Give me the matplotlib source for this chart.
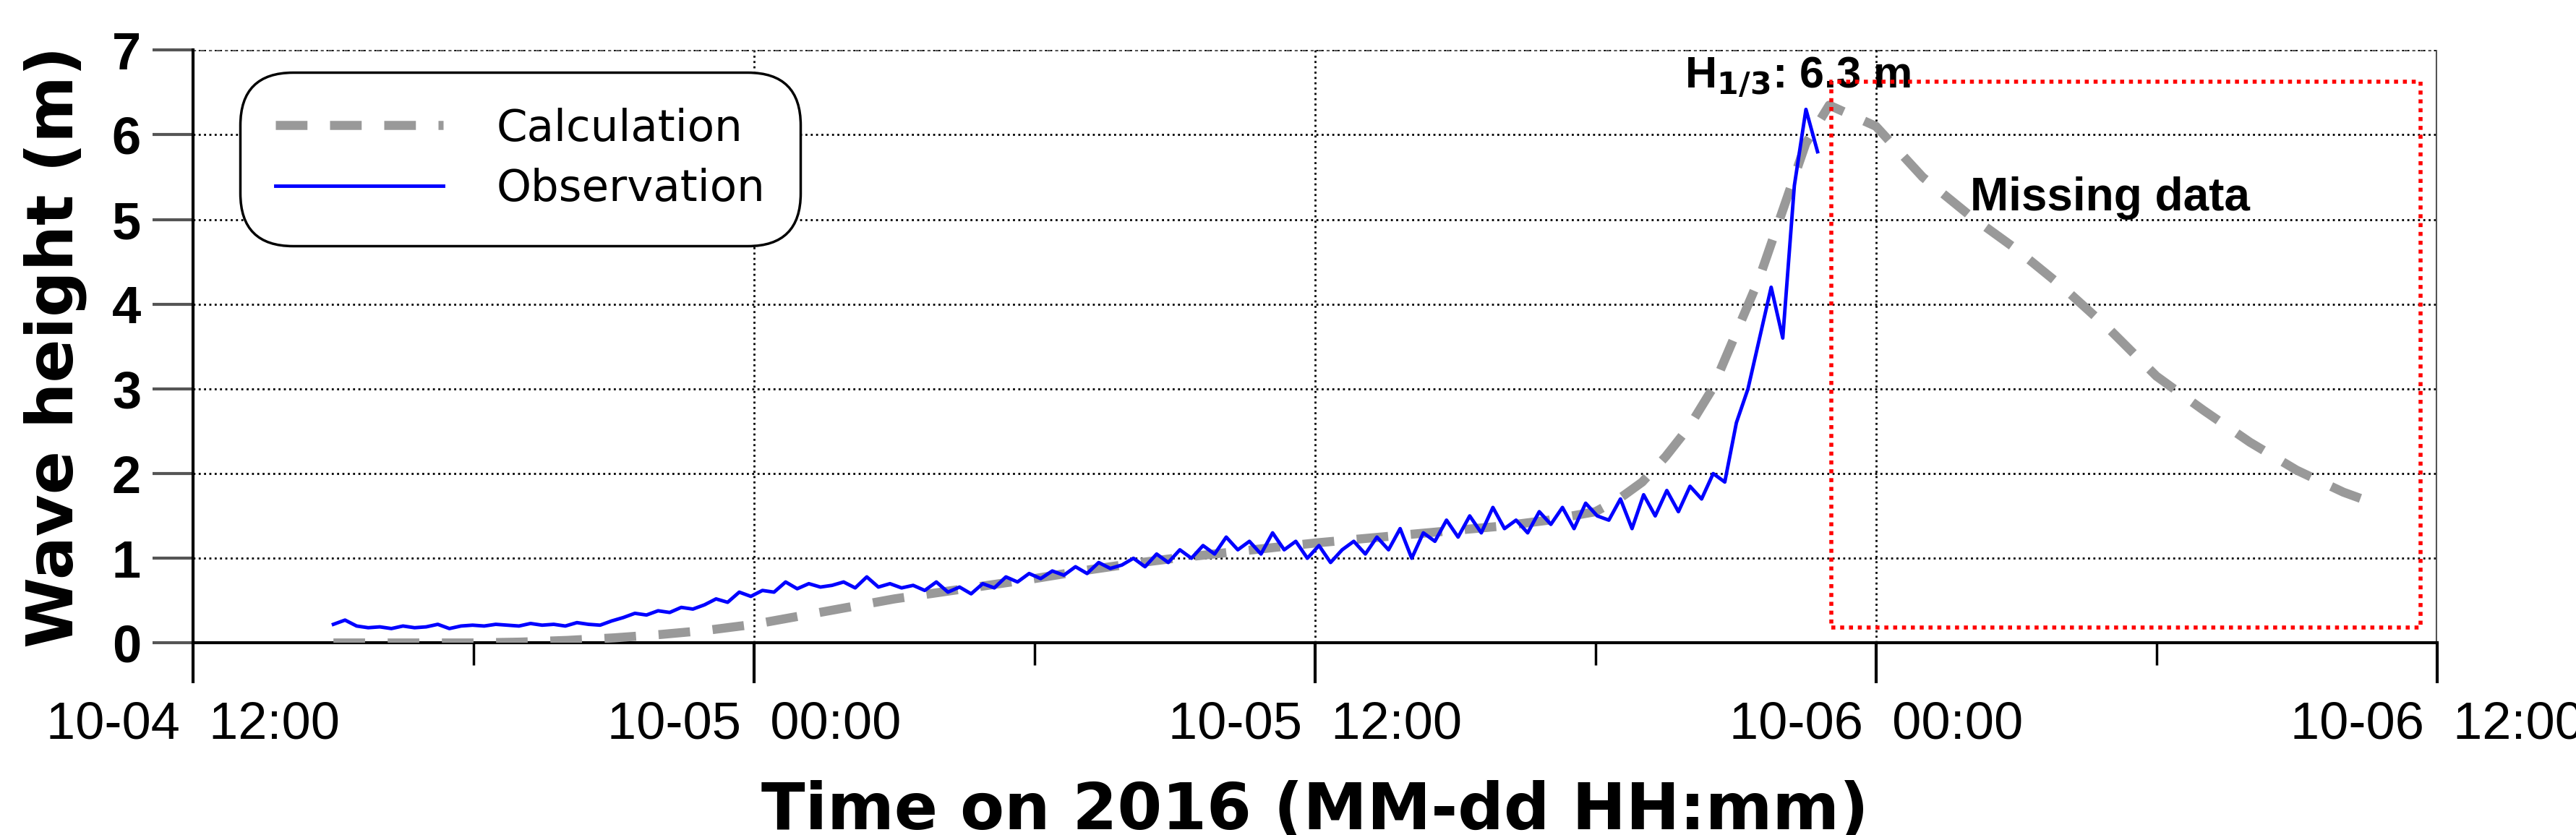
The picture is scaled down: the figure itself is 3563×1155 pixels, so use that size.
import matplotlib
matplotlib.use("Agg")
import matplotlib.pyplot as plt
import numpy as np
from matplotlib.patches import Rectangle

# hours since 10-04 12:00
calc_t = [3,4,5,6,7,8,9,10,11,12,13,14,15,16,17,18,19,20,21,22,23,24,25,26,27,28,29,30,30.5,31,31.5,32,32.5,33,33.5,34,34.5,35,36,37,38,39,40,41,42,43,44,45,46,46.4]
calc_h = [0.0,0.0,0.0,0.0,0.01,0.03,0.06,0.1,0.15,0.22,0.32,0.42,0.52,0.6,0.68,0.76,0.85,0.93,1.0,1.06,1.12,1.18,1.23,1.28,1.33,1.38,1.45,1.55,1.7,1.9,2.2,2.55,3.0,3.65,4.3,5.1,5.9,6.35,6.1,5.5,5.05,4.65,4.2,3.7,3.15,2.75,2.37,2.04,1.78,1.7]

obs_t0, obs_dt = 3.0, 0.25
obs_h = [0.22,0.27,0.2,0.18,0.19,0.17,0.2,0.18,
         0.19,0.22,0.17,0.2,0.21,0.2,0.22,0.21,
         0.2,0.23,0.21,0.22,0.2,0.24,0.22,0.21,
         0.26,0.3,0.35,0.33,0.38,0.36,0.42,0.4,
         0.45,0.52,0.48,0.6,0.55,0.62,0.6,0.72,
         0.64,0.7,0.66,0.68,0.72,0.65,0.78,0.66,
         0.7,0.65,0.68,0.62,0.72,0.6,0.66,0.58,
         0.7,0.65,0.78,0.72,0.82,0.76,0.85,0.8,
         0.9,0.82,0.95,0.88,0.92,1.0,0.9,1.05,
         0.95,1.1,1.0,1.15,1.05,1.25,1.1,1.2,
         1.05,1.3,1.1,1.2,1.0,1.15,0.95,1.1,
         1.2,1.05,1.25,1.1,1.35,1.0,1.3,1.2,
         1.45,1.25,1.5,1.3,1.6,1.35,1.45,1.3,
         1.55,1.4,1.6,1.35,1.65,1.5,1.45,1.7,
         1.35,1.75,1.5,1.8,1.55,1.85,1.7,2.0,
         1.9,2.6,3.0,3.6,4.2,3.6,5.4,6.3,5.8]
obs_t = obs_t0 + obs_dt*np.arange(len(obs_h))*(31.75/(len(obs_h)-1))/obs_dt

xtick_pos = [0,12,24,36,48]
xtick_labels = ["10-04  12:00","10-05  00:00","10-05  12:00","10-06  00:00","10-06  12:00"]

fig = plt.figure(figsize=(35.63,11.55), dpi=100)
ax = fig.add_axes([0.075,0.23,0.871,0.71])
ax.plot(calc_t, calc_h, color="#999999", lw=9, ls=(0,(3.5,2.5)), label="Calculation", zorder=3)
ax.plot(obs_t, obs_h, color="#0000ff", lw=3.5, label="Observation", zorder=4)

ax.add_patch(Rectangle((35.05,0.18),12.6,6.45, fill=False, ec="red", lw=4, ls=(0,(1,1.2)), zorder=5))
ax.text(31.9,6.42,r"H$_{\mathbf{1/3}}$: 6.3 m", fontsize=44, fontweight="bold", family="Liberation Sans", va="bottom")
ax.text(41.0,5.25,"Missing data", fontsize=46, fontweight="bold", family="Liberation Sans", ha="center", va="center")

ax.set_xlim(0,48); ax.set_ylim(0,7)
ax.set_xticks(xtick_pos); ax.set_xticklabels(xtick_labels, family="Liberation Sans", fontsize=52)
ax.set_xticks([6,18,30,42], minor=True)
ax.set_yticks(range(8))
ax.set_yticklabels([str(i) for i in range(8)], family="Liberation Sans", fontsize=52, fontweight="bold")
ax.tick_params(axis="x", which="major", length=40, width=3, direction="out", pad=18)
ax.tick_params(axis="x", which="minor", length=22, width=2.5, direction="out")
ax.tick_params(axis="y", length=40, width=3, color="#555555", pad=12)
ax.grid(True, which="major", color="black", ls=":", lw=2)
for s in ["top","right"]:
    ax.spines[s].set_visible(False)
for s in ["left","bottom"]:
    ax.spines[s].set_linewidth(3)
ax.axhline(7, color="#555555", lw=3, ls=":", zorder=2)
ax.axvline(48, color="#555555", lw=3, zorder=2)
ax.set_ylabel("Wave height (m)", fontsize=64, fontweight="bold", labelpad=25)
ax.set_xlabel("Time on 2016 (MM-dd HH:mm)", fontsize=64, fontweight="bold", labelpad=30)

leg = ax.legend(loc="upper left", bbox_to_anchor=(0.015,0.985), fontsize=44, handlelength=3.8,
                handletextpad=1.2, borderpad=0.6, labelspacing=0.4, fancybox=True, framealpha=1)
leg.get_frame().set_edgecolor("black"); leg.get_frame().set_linewidth(2.5)
leg.get_frame().set_boxstyle("round,pad=0.2,rounding_size=1.2")
fig.savefig("out.png", dpi=100)
